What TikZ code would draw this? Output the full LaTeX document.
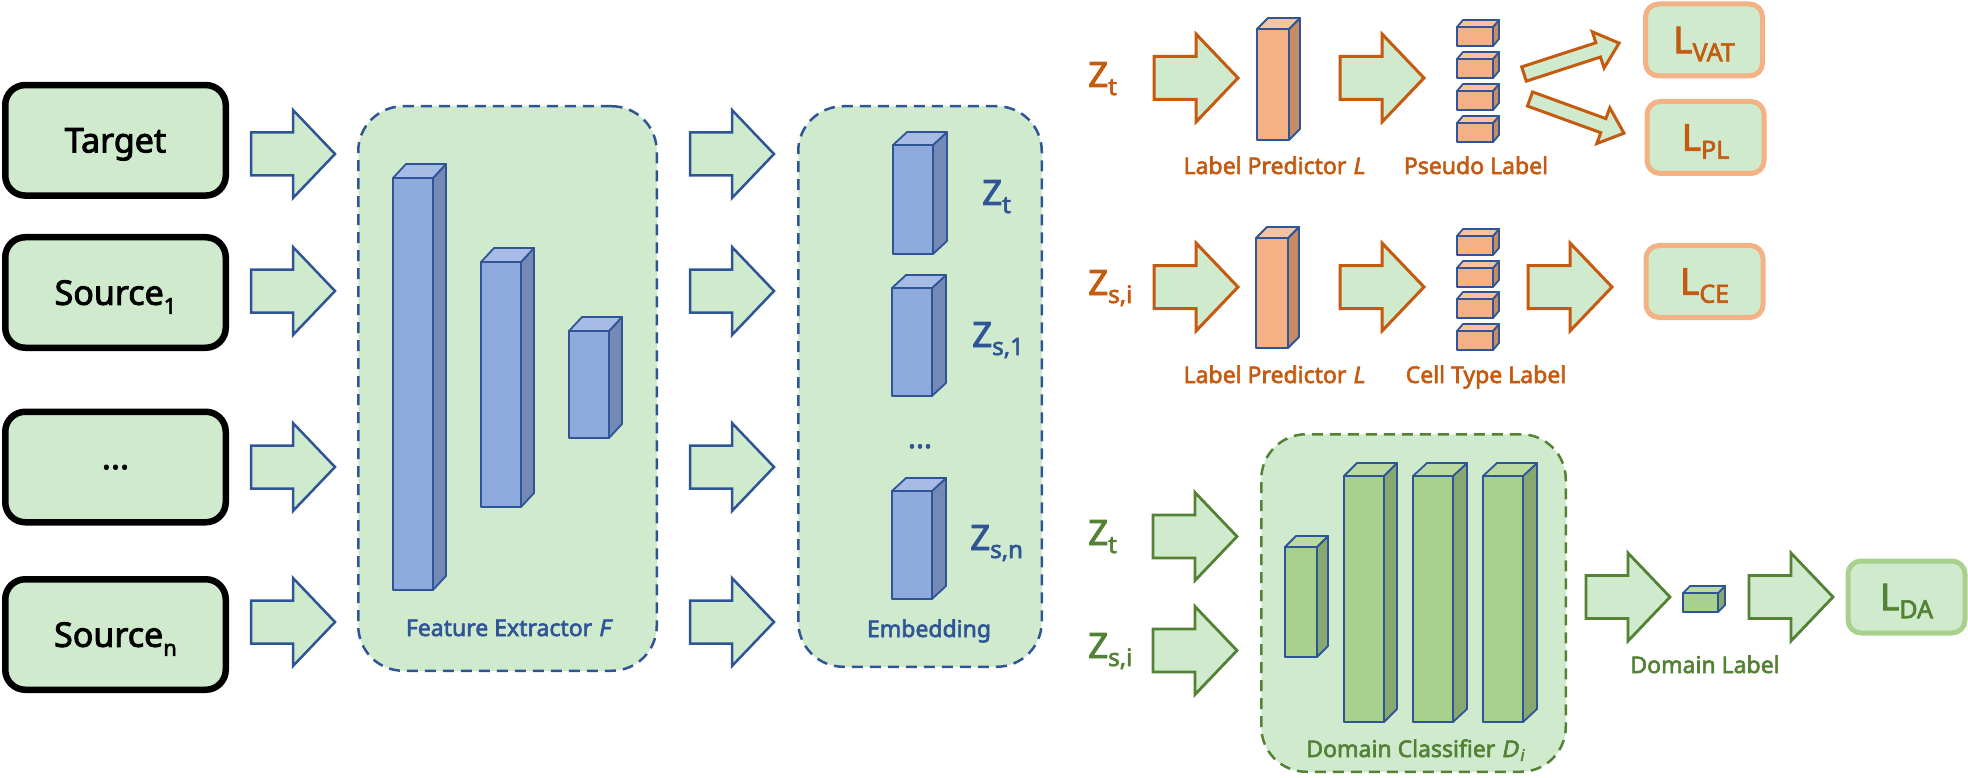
\documentclass[tikz,border=0pt]{standalone}
\usepackage{fontspec}
\setmainfont{Noto Sans}[AutoFakeBold=2.6]
\newfontfamily\bitfont{Noto Sans}[FakeBold=2.6, FakeSlant=0.2]
\definecolor{lgreen}{HTML}{D0EACE}
\definecolor{bluec}{HTML}{2F5597}
\definecolor{orangec}{HTML}{C55A11}
\definecolor{greenc}{HTML}{548235}
\definecolor{lorange}{HTML}{F4B183}
\definecolor{lgreentwo}{HTML}{A9D18E}
\definecolor{blueF}{HTML}{8FAADC}
\definecolor{blueS}{HTML}{7489B5}
\definecolor{blueT}{HTML}{A6BBE6}
\definecolor{orF}{HTML}{F4B183}
\definecolor{orS}{HTML}{C68C66}
\definecolor{orT}{HTML}{F7C3A0}
\definecolor{grF}{HTML}{A9D18E}
\definecolor{grS}{HTML}{88A872}
\definecolor{grT}{HTML}{B9DBA3}
\newcommand\mysub[3]{\raisebox{-#2}{\fontsize{#1}{#1}\selectfont #3}}
% prefix, x1, y1, x2, y2, dx, dy
\newcommand\mycuboid[7]{%
  \filldraw[cub, fill=#1F] (#2,#3) rectangle (#4,#5);
  \filldraw[cub, fill=#1S] (#4,#3) -- ++(#6,-#7) -- ++(0,{#5-#3}) -- (#4,#5) -- cycle;
  \filldraw[cub, fill=#1T] (#2,#3) -- ++(#6,-#7) -- ++({#4-#2},0) -- (#4,#3) -- cycle;}
\tikzset{
  cub/.style={draw=bluec, line width=1.8pt, line join=round},
  barrow/.pic={\path[pic actions] (0,-21.5) -- (42,-21.5) -- (42,-44) -- (84,0) -- (42,44) -- (42,21.5) -- (0,21.5) -- cycle;},
  tarrow/.pic={\path[pic actions] (0,-7.5) -- (78,-7.5) -- (78,-19) -- (100,0) -- (78,19) -- (78,7.5) -- (0,7.5) -- cycle;},
  ablue/.style={draw=bluec, fill=lgreen, line width=2.5pt},
  aorange/.style={draw=orangec, fill=lgreen, line width=3pt},
  agreen/.style={draw=greenc, fill=lgreen, line width=2.8pt},
  inbox/.style={draw=black, fill=lgreen, line width=6.5pt, rounded corners=20pt,
    minimum width=220.5pt, minimum height=110.5pt, inner sep=0pt, text depth=0pt,
    font=\fontsize{34}{34}\selectfont\bfseries},
  cont/.style={fill=lgreen, line width=2.5pt, dash pattern=on 11pt off 7pt,
    rounded corners=45pt, inner sep=0pt},
  lossbox/.style={fill=lgreen, line width=5pt, rounded corners=13pt, inner sep=0pt,
    minimum width=117pt, minimum height=72pt, text depth=0pt,
    font=\fontsize{37}{37}\selectfont\bfseries},
  lbl/.style={font=\fontsize{23}{23}\selectfont\bfseries, inner sep=0pt, anchor=base},
  zl/.style={font=\fontsize{35}{35}\selectfont\bfseries, inner sep=0pt, anchor=base west},
}
\begin{document}
\begin{tikzpicture}[x=1pt,y=-1pt]
\useasboundingbox (0,0) rectangle (1968,778);

% containers
\node[cont, draw=bluec, minimum width=298.5pt, minimum height=564.5pt] (fe) at (507.5,388.5) {};
\node[cont, draw=bluec, minimum width=243.5pt, minimum height=560.5pt] (emb) at (920,386.5) {};
\node[cont, draw=greenc, minimum width=304.5pt, minimum height=337.5pt] (dc) at (1413.5,603) {};

% input boxes
\node[inbox] (target) at (115.5,140.3) {Target};
\node[inbox] (srcone) at (115.5,292.5) {Source\mysub{22}{9pt}{1}};
\node[inbox] (dots) at (115.5,467) {...};
\node[inbox] (srcn) at (115.5,634.5) {Source\mysub{22}{9pt}{n}};

% block arrows, blue
\foreach \yy in {154,291,467,622}{
  \pic[ablue] at (251,\yy) {barrow};
  \pic[ablue] at (690,\yy) {barrow};
}

% feature extractor bars
\mycuboid{blue}{393}{178}{433}{590}{13}{14}
\mycuboid{blue}{481}{262}{521}{507}{13}{14}
\mycuboid{blue}{569}{331}{609}{438}{13}{14}
\node[lbl, text=bluec] (felbl) at (508,636) {Feature Extractor {\bitfont F}};

% embedding bars
\mycuboid{blue}{893}{145}{933}{254}{14}{13}
\mycuboid{blue}{892}{288}{932}{396}{14}{13}
\mycuboid{blue}{892}{491}{932}{599}{14}{13}
\node[lbl, text=bluec, font=\fontsize{30}{30}\selectfont\bfseries] (embdots) at (920,448) {...};
\node[lbl, text=bluec] (emblbl) at (929,637) {Embedding};
\node[zl, text=bluec] (ezt) at (982,205) {Z\mysub{24}{8pt}{t}};
\node[zl, text=bluec] (ezs1) at (972,347) {Z\mysub{24}{8pt}{s,1}};
\node[zl, text=bluec] (ezsn) at (970,550) {Z\mysub{24}{8pt}{s,n}};

% ---- row 1 (target, label predictor) ----
\node[zl, text=orangec] (rzt) at (1088,87) {Z\mysub{24}{8pt}{t}};
\pic[aorange] at (1154,78) {barrow};
\mycuboid{or}{1257}{29}{1289}{140}{11}{11}
\pic[aorange] at (1340,78) {barrow};
\foreach \yy in {27,59,91,123}{
  \mycuboid{or}{1457}{\yy}{1493}{\yy+19}{6}{7}
}
\pic[aorange, rotate=18] at (1524,74) {tarrow};
\pic[aorange, rotate=-20] at (1530,99) {tarrow};
\node[lossbox, draw=lorange, text=orangec] (lvat) at (1704,40) {L\mysub{25}{8pt}{VAT}};
\node[lossbox, draw=lorange, text=orangec] (lpl) at (1705.5,137.5) {L\mysub{25}{8pt}{PL}};
\node[lbl, text=orangec] (lp1) at (1274,174) {Label Predictor {\bitfont L}};
\node[lbl, text=orangec] (pslbl) at (1476,174) {Pseudo Label};

% ---- row 2 (source, label predictor) ----
\node[zl, text=orangec] (rzs) at (1088,295) {Z\mysub{24}{8pt}{s,i}};
\pic[aorange] at (1154,287) {barrow};
\mycuboid{or}{1256}{238}{1288}{348}{11}{11}
\pic[aorange] at (1340,287) {barrow};
\foreach \yy in {236,268,299,331}{
  \mycuboid{or}{1457}{\yy}{1493}{\yy+19}{6}{7}
}
\pic[aorange] at (1528,287) {barrow};
\node[lossbox, draw=lorange, text=orangec] (lce) at (1704.5,281.5) {L\mysub{25}{8pt}{CE}};
\node[lbl, text=orangec] (lp2) at (1274,383) {Label Predictor {\bitfont L}};
\node[lbl, text=orangec] (ctlbl) at (1486,383) {Cell Type Label};

% ---- row 3 (domain classifier) ----
\node[zl, text=greenc] (gzt) at (1088,545) {Z\mysub{24}{8pt}{t}};
\node[zl, text=greenc] (gzs) at (1088,658) {Z\mysub{24}{8pt}{s,i}};
\pic[agreen] at (1153,536.5) {barrow};
\pic[agreen] at (1153,650.5) {barrow};
\mycuboid{gr}{1285}{547}{1317}{657}{11}{11}
\mycuboid{gr}{1344}{476}{1384}{722}{13}{13}
\mycuboid{gr}{1413}{476}{1453}{722}{14}{13}
\mycuboid{gr}{1483}{476}{1523}{722}{14}{13}
\node[lbl, text=greenc] (dclbl) at (1415,757) {Domain Classifier {\bitfont D\kern1.5pt\mysub{16}{4pt}{i}}};
\pic[agreen] at (1586,597) {barrow};
\mycuboid{gr}{1683}{593}{1718}{612}{7}{7}
\pic[agreen] at (1749,597) {barrow};
\node[lbl, text=greenc] (dllbl) at (1705,673) {Domain Label};
\node[lossbox, draw=lgreentwo, text=greenc] (lda) at (1906.5,597) {L\mysub{25}{8pt}{DA}};
\end{tikzpicture}
\end{document}
